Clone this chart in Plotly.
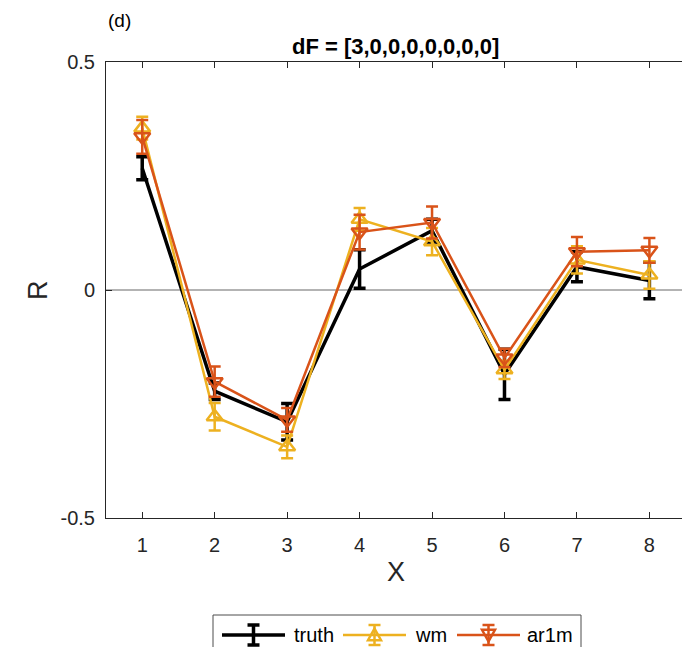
import plotly.graph_objects as go

x = [1, 2, 3, 4, 5, 6, 7, 8]
truth = [0.267, -0.222, -0.289, 0.046, 0.13, -0.185, 0.051, 0.021]
truth_err = [0.025, 0.018, 0.04, 0.042, 0.025, 0.055, 0.033, 0.04]
wm = [0.355, -0.278, -0.344, 0.155, 0.106, -0.175, 0.066, 0.033]
wm_err = [0.025, 0.03, 0.025, 0.025, 0.03, 0.02, 0.03, 0.03]
ar1m = [0.336, -0.201, -0.285, 0.127, 0.148, -0.149, 0.084, 0.087]
ar1m_err = [0.037, 0.033, 0.026, 0.038, 0.035, 0.02, 0.032, 0.027]

ytick_vals = [-0.5, 0, 0.5]
ytick_text = ["-0.5", "0", "0.5"]

FONT = "Liberation Sans, Arial, sans-serif"
TXT = "#262626"

W, H = 682, 647
L, R, T, B = 106, 0, 62, 129
PW, PH = W - L - R, H - T - B

series = [
    ("truth", truth, truth_err, "#000000", None, 3.5),
    ("wm", wm, wm_err, "#EDB120", "triangle-up-open", 2.5),
    ("ar1m", ar1m, ar1m_err, "#D95319", "triangle-down-open", 2.5),
]

fig = go.Figure()
for name, ys, errs, color, symbol, lw in series:
    fig.add_trace(go.Scatter(
        x=x, y=ys, name=name, mode="lines+markers" if symbol else "lines",
        line=dict(color=color, width=lw),
        marker=dict(symbol=symbol or "circle", size=14 if symbol else 1,
                    color=color, line=dict(color=color, width=2.5)),
        error_y=dict(type="data", array=errs, visible=True, color=color,
                     thickness=lw, width=6),
        showlegend=False,
    ))

fig.update_layout(
    width=W, height=H,
    margin=dict(l=L, r=R, t=T, b=B),
    paper_bgcolor="white", plot_bgcolor="white",
    font=dict(family=FONT, color=TXT, size=20),
    showlegend=False,
    xaxis=dict(range=[0.5, 8.45], tickvals=x, ticks="inside", ticklen=6,
               tickcolor="#262626", showline=True, linecolor="#262626", linewidth=1,
               mirror="ticks", showgrid=False, zeroline=False,
               ticklabelstandoff=9,
               tickfont=dict(size=20, color=TXT)),
    yaxis=dict(range=[-0.5, 0.5], tickvals=ytick_vals, ticktext=ytick_text,
               ticks="inside", ticklen=6, tickcolor="#262626", showline=True,
               linecolor="#262626", linewidth=1, mirror=False, showgrid=False,
               zeroline=True, zerolinecolor="#b3b3b3", zerolinewidth=2,
               ticklabelstandoff=6,
               tickfont=dict(size=20, color=TXT)),
)

def px(xp):
    return (xp - L) / PW

def py(yp):
    return (H - B - yp) / PH

# titles
fig.add_annotation(text="<b>dF = [3,0,0,0,0,0,0,0]</b>", xref="paper", yref="paper",
                   x=px(395), y=py(47), xanchor="center", yanchor="middle",
                   showarrow=False, font=dict(size=22, color="#000000"))
fig.add_annotation(text="(d)", xref="paper", yref="paper",
                   x=px(106), y=py(20), xanchor="left", yanchor="middle",
                   showarrow=False, font=dict(size=19, color="#000000"))
fig.add_annotation(text="X", xref="paper", yref="paper",
                   x=px(396), y=py(572), xanchor="center", yanchor="middle",
                   showarrow=False, font=dict(size=27, color=TXT))
fig.add_annotation(text="R", xref="paper", yref="paper", textangle=-90,
                   x=px(38), y=py(290), xanchor="center", yanchor="middle",
                   showarrow=False, font=dict(size=27, color=TXT))

# manual legend (MATLAB style)
leg_left, leg_right, leg_top, leg_bottom = 213, 581, 615, 662
fig.add_shape(type="rect", xref="paper", yref="paper",
              x0=px(leg_left), x1=px(leg_right), y0=py(leg_top), y1=py(leg_bottom),
              line=dict(color="#4d4d4d", width=1), fillcolor="white", layer="above")
cy = 635
starts = [222, 343, 457]
seg = 63
text_x = [292, 413, 525]
for (name, ys, errs, color, symbol, lw), sx, tx in zip(series, starts, text_x):
    cx = sx + seg / 2
    fig.add_shape(type="line", xref="paper", yref="paper",
                  x0=px(sx), x1=px(sx + seg), y0=py(cy), y1=py(cy),
                  line=dict(color=color, width=lw), layer="above")
    eh = 10
    fig.add_shape(type="line", xref="paper", yref="paper",
                  x0=px(cx), x1=px(cx), y0=py(cy - eh), y1=py(cy + eh),
                  line=dict(color=color, width=lw), layer="above")
    for yy in (cy - eh, cy + eh):
        fig.add_shape(type="line", xref="paper", yref="paper",
                      x0=px(cx - 6), x1=px(cx + 6), y0=py(yy), y1=py(yy),
                      line=dict(color=color, width=lw), layer="above")
    if symbol:
        s = 6.5
        if "up" in symbol:
            pts = [(cx, cy - s), (cx - s, cy + s * 0.8), (cx + s, cy + s * 0.8)]
        else:
            pts = [(cx, cy + s), (cx - s, cy - s * 0.8), (cx + s, cy - s * 0.8)]
        path = "M " + " L ".join(f"{px(a)},{py(b)}" for a, b in pts) + " Z"
        fig.add_shape(type="path", xref="paper", yref="paper", path=path,
                      line=dict(color=color, width=2.5), layer="above")
    fig.add_annotation(text=name, xref="paper", yref="paper",
                       x=px(tx), y=py(cy), xanchor="left", yanchor="middle",
                       showarrow=False, font=dict(size=20, color="#000000"))

fig.write_html("out.html")
